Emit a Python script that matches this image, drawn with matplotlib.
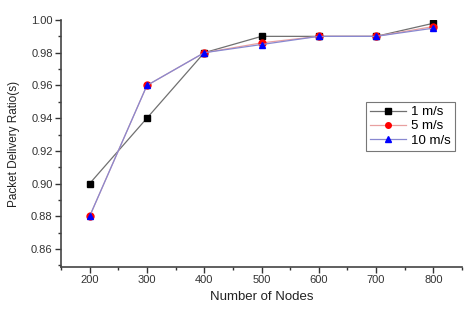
import matplotlib
matplotlib.use("Agg")
import matplotlib.pyplot as plt
from matplotlib.ticker import MultipleLocator

plt.rcParams['font.family'] = ['Liberation Sans', 'DejaVu Sans']

nodes = [200, 300, 400, 500, 600, 700, 800]
s1 = [0.900, 0.940, 0.980, 0.990, 0.990, 0.990, 0.998]
s5 = [0.880, 0.960, 0.980, 0.986, 0.990, 0.990, 0.996]
s10 = [0.880, 0.960, 0.980, 0.985, 0.990, 0.990, 0.995]
labels = ['1 m/s', '5 m/s', '10 m/s']

fig = plt.figure(figsize=(4.71, 3.09), dpi=100)
ax = fig.add_axes([61/471, 42/309, 401/471, 247/309])

ax.plot(nodes, s1, color='#707070', lw=0.9, marker='s', ms=5, mfc='black', mec='black', label=labels[0])
ax.plot(nodes, s5, color='#e8a0a0', lw=0.9, marker='o', ms=5, mfc='red', mec='red', label=labels[1])
ax.plot(nodes, s10, color='#8888d0', lw=0.9, marker='^', ms=5, mfc='blue', mec='blue', label=labels[2])

ax.set_xlim(150, 850)
ax.set_ylim(0.849, 1.0)
ax.xaxis.set_major_locator(MultipleLocator(100))
ax.xaxis.set_minor_locator(MultipleLocator(50))
ax.yaxis.set_major_locator(MultipleLocator(0.02))
ax.yaxis.set_minor_locator(MultipleLocator(0.01))
ax.set_yticks([0.86, 0.88, 0.90, 0.92, 0.94, 0.96, 0.98, 1.00])
ax.set_xticks(nodes)
ax.tick_params(which='major', direction='out', length=4, width=1, labelsize=8, colors='#333333', pad=2)
ax.tick_params(which='minor', direction='out', length=2, width=1, colors='#333333')
ax.spines['top'].set_visible(False)
ax.spines['right'].set_visible(False)
ax.spines['left'].set_color('#444444')
ax.spines['bottom'].set_color('#444444')
ax.spines['left'].set_linewidth(1.2)
ax.spines['bottom'].set_linewidth(1.2)

ax.set_xlabel('Number of Nodes', fontsize=9.5, color='#222222')
ax.set_ylabel('Packet Delivery Ratio(s)', fontsize=8.5, color='#222222', labelpad=8)

leg = ax.legend(loc='upper left', bbox_to_anchor=((366-61)/401, (267-102)/247), fontsize=9.5,
                frameon=True, fancybox=False, edgecolor='#555555', handlelength=2.7,
                markerscale=0.8, borderaxespad=0, borderpad=0.3, labelspacing=0.15,
                handletextpad=0.4)
leg.get_frame().set_linewidth(0.8)

fig.savefig('out.png', dpi=100)
